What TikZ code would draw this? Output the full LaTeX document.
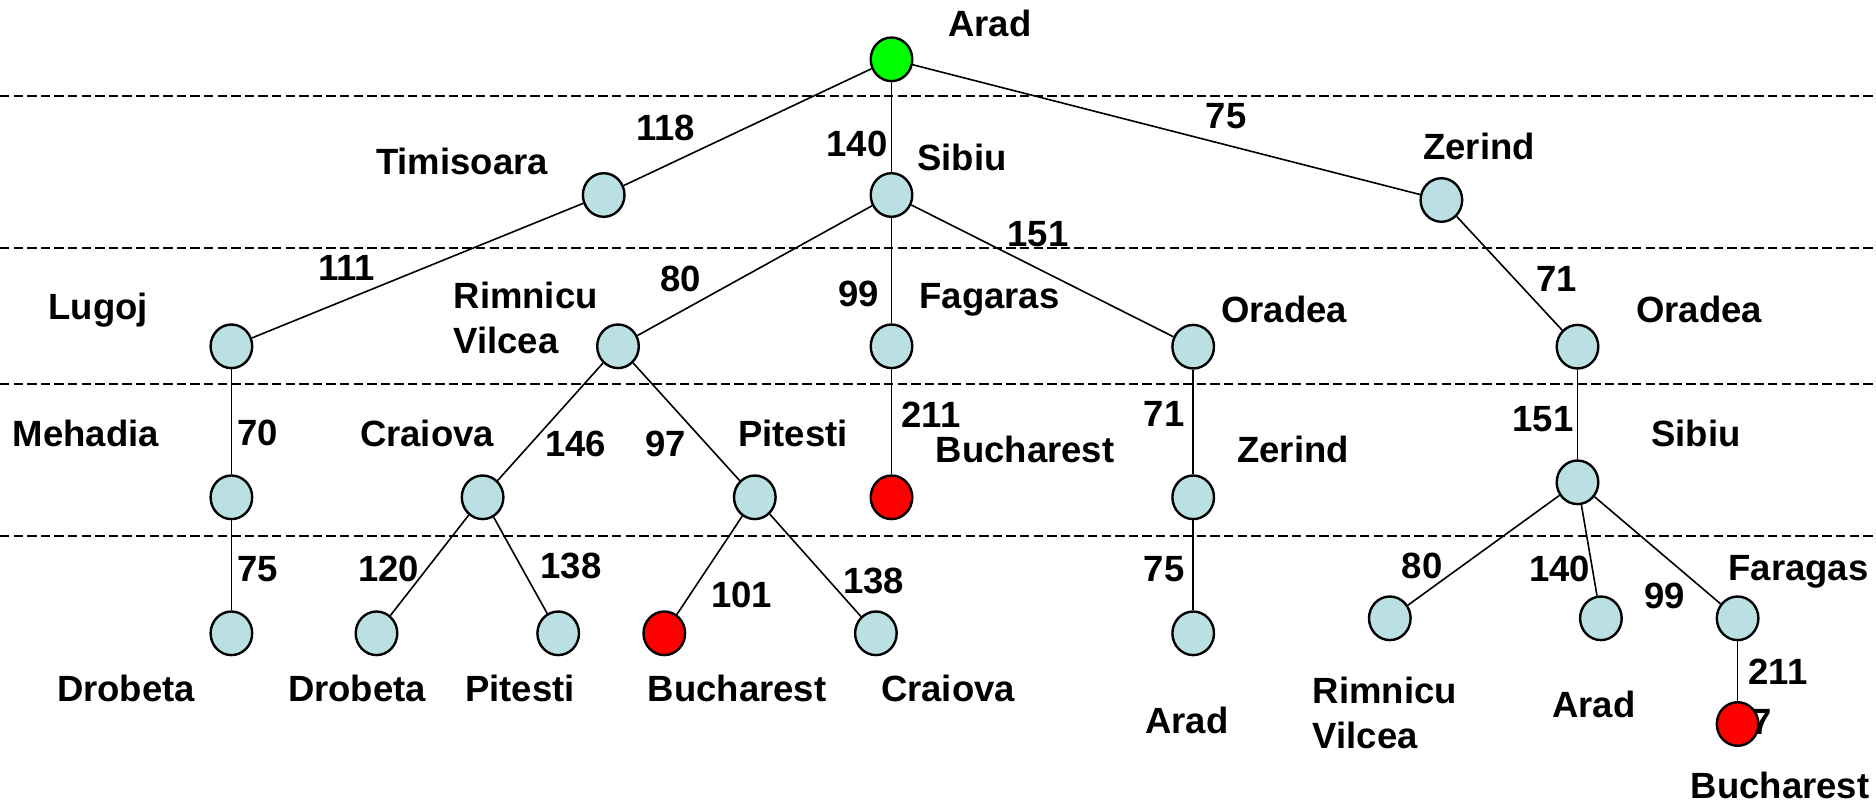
\documentclass[tikz,border=0pt]{standalone}
\usepackage{fontspec}
\setmainfont{Liberation Sans}
\usetikzlibrary{shapes.geometric}
\definecolor{nodeblue}{RGB}{187,224,227}
\definecolor{startgreen}{RGB}{0,255,0}
\definecolor{goalred}{RGB}{255,0,0}
\tikzset{
  lbl/.style={font=\fontsize{18.25}{22.5}\selectfont\bfseries, inner sep=0pt, text height=13.07pt, text depth=0pt},
  lbl2/.style={font=\fontsize{18.25}{22.5}\selectfont\bfseries, inner sep=0pt, align=left, anchor=north west},
  city/.style={ellipse, draw, line width=1.2pt, fill=nodeblue, minimum width=20.8pt, minimum height=21.8pt, inner sep=0pt},
  startcity/.style={city, fill=startgreen},
  goalcity/.style={city, fill=goalred},
  edge/.style={line width=0.8pt},
  level/.style={line width=1.1pt, dash pattern=on 4.7pt off 2.1pt}
}
\begin{document}
\begin{tikzpicture}[x=0.5pt,y=-0.5pt]
\useasboundingbox (0,0) rectangle (1876,802);
% level separators
\coordinate (d1l) at (0,96);   \coordinate (d1r) at (1876,96);
\coordinate (d2l) at (0,248.3); \coordinate (d2r) at (1876,248.3);
\coordinate (d3l) at (0,384);  \coordinate (d3r) at (1876,384);
\coordinate (d4l) at (0,535.7); \coordinate (d4r) at (1876,535.7);
\draw[level] (d1l) -- (d1r);
\draw[level] (d2l) -- (d2r);
\draw[level] (d3l) -- (d3r);
\draw[level] (d4l) -- (d4r);

% hidden glyph behind the last goal node
\node[lbl] (seven) at (1762,721) {7};

% tree nodes
\node[startcity] (arad) at (891.5,59.3) {};
\node[city] (tim) at (603.7,195) {};
\node[city] (sib) at (891.5,195) {};
\node[city] (zer) at (1441.4,200) {};
\node[city] (lug) at (231.4,346.3) {};
\node[city] (rim) at (618,346.3) {};
\node[city] (fag) at (891.5,346.3) {};
\node[city] (oraA) at (1193.2,346.7) {};
\node[city] (oraB) at (1577.5,346.7) {};
\node[city] (meh) at (231.4,497.3) {};
\node[city] (cra) at (482.6,497.3) {};
\node[city] (pit) at (754.8,497.3) {};
\node[goalcity] (bucA) at (891.5,497.3) {};
\node[city] (zerB) at (1193.2,497.3) {};
\node[city] (sibB) at (1577.5,482.3) {};
\node[city] (droA) at (231.4,633.3) {};
\node[city] (droB) at (376.5,633.3) {};
\node[city] (pitB) at (558.2,633.3) {};
\node[goalcity] (bucB) at (664.3,633.3) {};
\node[city] (craB) at (875.9,633.3) {};
\node[city] (aradB) at (1193.2,633.3) {};
\node[city] (rimB) at (1389.8,618.3) {};
\node[city] (aradC) at (1600.9,618.3) {};
\node[city] (far) at (1737.6,618.3) {};
\node[goalcity] (bucC) at (1737.6,724) {};

% edges
\draw[edge] (arad) -- (tim);
\draw[edge] (arad) -- (sib);
\draw[edge] (arad) -- (zer);
\draw[edge] (tim) -- (lug);
\draw[edge] (sib) -- (rim);
\draw[edge] (sib) -- (fag);
\draw[edge] (sib) -- (oraA);
\draw[edge] (zer) -- (oraB);
\draw[edge] (lug) -- (meh);
\draw[edge] (rim) -- (cra);
\draw[edge] (rim) -- (pit);
\draw[edge] (fag) -- (bucA);
\draw[edge] (oraA) -- (zerB);
\draw[edge] (oraB) -- (sibB);
\draw[edge] (meh) -- (droA);
\draw[edge] (cra) -- (droB);
\draw[edge] (cra) -- (pitB);
\draw[edge] (pit) -- (bucB);
\draw[edge] (pit) -- (craB);
\draw[edge] (zerB) -- (aradB);
\draw[edge] (sibB) -- (rimB);
\draw[edge] (sibB) -- (aradC);
\draw[edge] (sibB) -- (far);
\draw[edge] (far) -- (bucC);

% city labels
\node[lbl] (tArad) at (990,23.3) {Arad};
\node[lbl] (tTim) at (462,161) {Timisoara};
\node[lbl] (tSib) at (962,157) {Sibiu};
\node[lbl] (tZer) at (1479,146) {Zerind};
\node[lbl] (tLug) at (98.3,306) {Lugoj};
\node[lbl2] (tRim) at (453.3,281.7) {Rimnicu\\Vilcea};
\node[lbl] (tFag) at (989.5,295.5) {Fagaras};
\node[lbl] (tOraA) at (1284,309) {Oradea};
\node[lbl] (tOraB) at (1699,309) {Oradea};
\node[lbl] (tMeh) at (86,433) {Mehadia};
\node[lbl] (tCra) at (427,433) {Craiova};
\node[lbl] (tPit) at (793,433) {Pitesti};
\node[lbl] (tBucA) at (1025,449) {Bucharest};
\node[lbl] (tZerB) at (1293,449) {Zerind};
\node[lbl] (tSibB) at (1696,433) {Sibiu};
\node[lbl] (tDroA) at (126,688) {Drobeta};
\node[lbl] (tDroB) at (357,688) {Drobeta};
\node[lbl] (tPitB) at (520,688) {Pitesti};
\node[lbl] (tBucB) at (737,688) {Bucharest};
\node[lbl] (tCraB) at (948,688) {Craiova};
\node[lbl] (tAradB) at (1187,720) {Arad};
\node[lbl2] (tRimB) at (1312.5,677) {Rimnicu\\Vilcea};
\node[lbl] (tAradC) at (1594,704) {Arad};
\node[lbl] (tFar) at (1798.5,567) {Faragas};
\node[lbl] (tBucC) at (1780,785) {Bucharest};

% cost labels
\node[lbl] (c118) at (665.5,127) {118};
\node[lbl] (c140) at (857,143) {140};
\node[lbl] (c75) at (1226,115) {75};
\node[lbl] (c111) at (346.5,267) {111};
\node[lbl] (c80) at (680.5,278) {80};
\node[lbl] (c99) at (858.5,293) {99};
\node[lbl] (c151) at (1038,233) {151};
\node[lbl] (c71) at (1556.5,278) {71};
\node[lbl] (c70) at (258,432) {70};
\node[lbl] (c146) at (575.5,443) {146};
\node[lbl] (c97) at (665.5,443) {97};
\node[lbl] (c211) at (931,414) {211};
\node[lbl] (c71b) at (1164,413) {71};
\node[lbl] (c151b) at (1543,418) {151};
\node[lbl] (c75b) at (258,568) {75};
\node[lbl] (c120) at (388.5,568) {120};
\node[lbl] (c138) at (571,565) {138};
\node[lbl] (c101) at (741.6,594) {101};
\node[lbl] (c138b) at (873.5,580) {138};
\node[lbl] (c75c) at (1164,568) {75};
\node[lbl] (c80b) at (1422,565) {80};
\node[lbl] (c140b) at (1559.5,568) {140};
\node[lbl] (c99b) at (1664.4,595) {99};
\node[lbl] (c211b) at (1778,671) {211};
\end{tikzpicture}
\end{document}
